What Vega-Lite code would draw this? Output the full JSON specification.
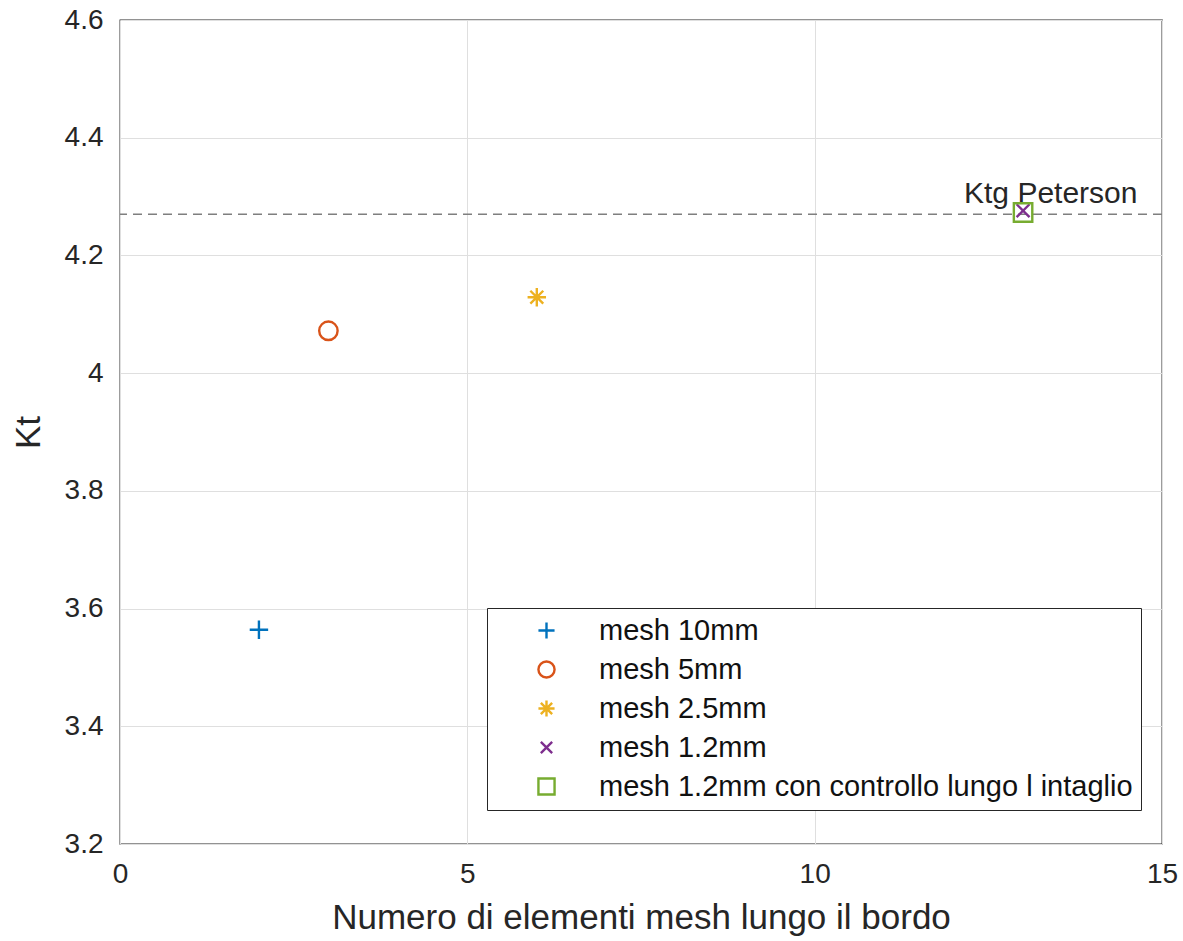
{
  "$schema": "https://vega.github.io/schema/vega-lite/v6.json",
  "autosize": {"type": "none"},
  "width": 1042,
  "height": 824,
  "padding": {"left": 120, "top": 20, "right": 21, "bottom": 97},
  "background": "white",
  "config": {
    "font": "Liberation Sans",
    "view": {"stroke": "#262626", "strokeWidth": 1.3},
    "axis": {
      "labelFont": "Liberation Sans",
      "titleFont": "Liberation Sans",
      "labelColor": "#262626",
      "titleColor": "#262626",
      "labelFontSize": 28,
      "titleFontSize": 35,
      "titleFontWeight": "normal",
      "gridColor": "#dfdfdf",
      "gridWidth": 1,
      "domain": false,
      "ticks": false,
      "labelFlush": false,
      "labelOverlap": false
    }
  },
  "datasets": {
    "points": [
      {"n": 2, "kt": 3.564, "series": "mesh 10mm"},
      {"n": 3, "kt": 4.072, "series": "mesh 5mm"},
      {"n": 6, "kt": 4.129, "series": "mesh 2.5mm"},
      {"n": 13, "kt": 4.276, "series": "mesh 1.2mm"},
      {"n": 13, "kt": 4.273, "series": "mesh 1.2mm con controllo lungo l intaglio"}
    ],
    "ref": [{"kt": 4.27, "x": 12.15, "label": "Ktg Peterson"}]
  },
  "layer": [
    {
      "data": {"name": "ref"},
      "mark": {"type": "rule", "color": "#7f7f7f", "strokeDash": [9, 6], "strokeWidth": 1.5},
      "encoding": {"y": {"field": "kt", "type": "quantitative"}}
    },
    {
      "data": {"name": "ref"},
      "mark": {"type": "text", "align": "left", "baseline": "alphabetic", "dy": -11, "fontSize": 30, "color": "#262626", "font": "Liberation Sans"},
      "encoding": {
        "x": {"field": "x", "type": "quantitative"},
        "y": {"field": "kt", "type": "quantitative"},
        "text": {"field": "label"}
      }
    },
    {
      "data": {"name": "points"},
      "mark": {"type": "point", "filled": false, "strokeWidth": 2.4, "size": 340, "opacity": 1},
      "encoding": {
        "x": {
          "field": "n", "type": "quantitative",
          "scale": {"domain": [0, 15], "nice": false},
          "axis": {"values": [0, 5, 10, 15], "format": "d", "title": "Numero di elementi mesh lungo il bordo", "labelPadding": 16, "titlePadding": 12}
        },
        "y": {
          "field": "kt", "type": "quantitative",
          "scale": {"domain": [3.2, 4.6], "nice": false, "zero": false},
          "axis": {"values": [3.2, 3.4, 3.6, 3.8, 4.0, 4.2, 4.4, 4.6], "title": "Kt", "labelPadding": 17, "titlePadding": 18, "labelExpr": "datum.value == 4 ? '4' : format(datum.value, '.1f')"}
        },
        "color": {
          "field": "series", "type": "nominal",
          "scale": {
            "domain": ["mesh 10mm", "mesh 5mm", "mesh 2.5mm", "mesh 1.2mm", "mesh 1.2mm con controllo lungo l intaglio"],
            "range": ["#0072BD", "#D95319", "#EDB120", "#7E2F8E", "#77AC30"]
          },
          "legend": {
            "title": null,
            "orient": "none",
            "legendX": 367,
            "legendY": 588,
            "strokeColor": "#262626",
            "fillColor": "white",
            "padding": 8,
            "symbolOffset": 37,
            "symbolSize": 260,
            "symbolStrokeWidth": 2.4,
            "labelFontSize": 29,
            "labelFont": "Liberation Sans",
            "labelColor": "#111111",
            "labelOffset": 38,
            "labelLimit": 700,
            "rowPadding": 9
          }
        },
        "shape": {
          "field": "series", "type": "nominal",
          "scale": {
            "domain": ["mesh 10mm", "mesh 5mm", "mesh 2.5mm", "mesh 1.2mm", "mesh 1.2mm con controllo lungo l intaglio"],
            "range": [
              "M-1,0H1M0,-1V1",
              "circle",
              "M-1,0H1M0,-1V1M-0.7,-0.7L0.7,0.7M-0.7,0.7L0.7,-0.7",
              "M-0.7,-0.7L0.7,0.7M-0.7,0.7L0.7,-0.7",
              "square"
            ]
          }
        }
      }
    }
  ]
}
